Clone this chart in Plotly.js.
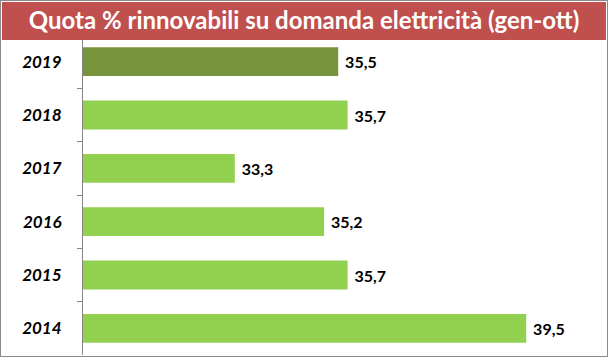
<!DOCTYPE html>
<html><head><meta charset="utf-8">
<script src="https://cdn.plot.ly/plotly-3.0.1.min.js"></script>
<style>
html,body{margin:0;padding:0;background:#fff;}
#chart{width:606px;height:355px;border:1px solid #8c8c8c;}
</style></head>
<body><div id="chart"></div>
<script>
const years = ['2019','2018','2017','2016','2015','2014'];
const values = [35.5, 35.7, 33.3, 35.2, 35.7, 39.5];
const labels = ['35,5','35,7','33,3','35,2','35,7','39,5'];
const colors = ['#77933C','#92D050','#92D050','#92D050','#92D050','#92D050'];
const titleText = 'Quota % rinnovabili su domanda elettricità (gen-ott)';
const axisMin = 30.07, axisMax = 41.07;

const trace = {
  type:'bar', orientation:'h',
  y: years, x: values.map(v => v - axisMin),
  base: axisMin,
  text: labels.map(t => ' ' + t), textposition:'outside', cliponaxis:false,
  textfont:{family:'Lato, "Open Sans", sans-serif', size:16, color:'#000', weight:'bold'},
  marker:{color: colors, line:{width:0}},
  width:0.54, hoverinfo:'none'
};

const layout = {
  width:606, height:355,
  margin:{l:82, r:7, t:34, b:1, pad:0},
  paper_bgcolor:'#fff', plot_bgcolor:'#fff',
  showlegend:false,
  title:{text:'<b>'+titleText+'</b>', font:{family:'Lato, "Open Sans", sans-serif', size:24, color:'#fff'},
    xref:'container', x:0.5, xanchor:'center', yref:'container', y:0.945, yanchor:'middle'},
  xaxis:{range:[axisMin, axisMax], visible:false, fixedrange:true},
  yaxis:{autorange:'reversed', type:'category', showline:true, linecolor:'#868686', linewidth:1,
    ticks:'outside', ticklen:5, tickcolor:'#868686', tickson:'boundaries', showgrid:false,
    ticklabelstandoff:17,
    tickfont:{family:'Lato, "Open Sans", sans-serif', size:17, color:'#000', weight:'bold', style:'italic'}},
  shapes:[{type:'rect', xref:'paper', yref:'paper', x0:-0.1567, x1:1.0116, y0:0.984, y1:1.103,
    fillcolor:'#C0504D', line:{width:0}, layer:'above'}]
};
Plotly.newPlot('chart',[trace],layout,{staticPlot:true});
</script></body></html>
